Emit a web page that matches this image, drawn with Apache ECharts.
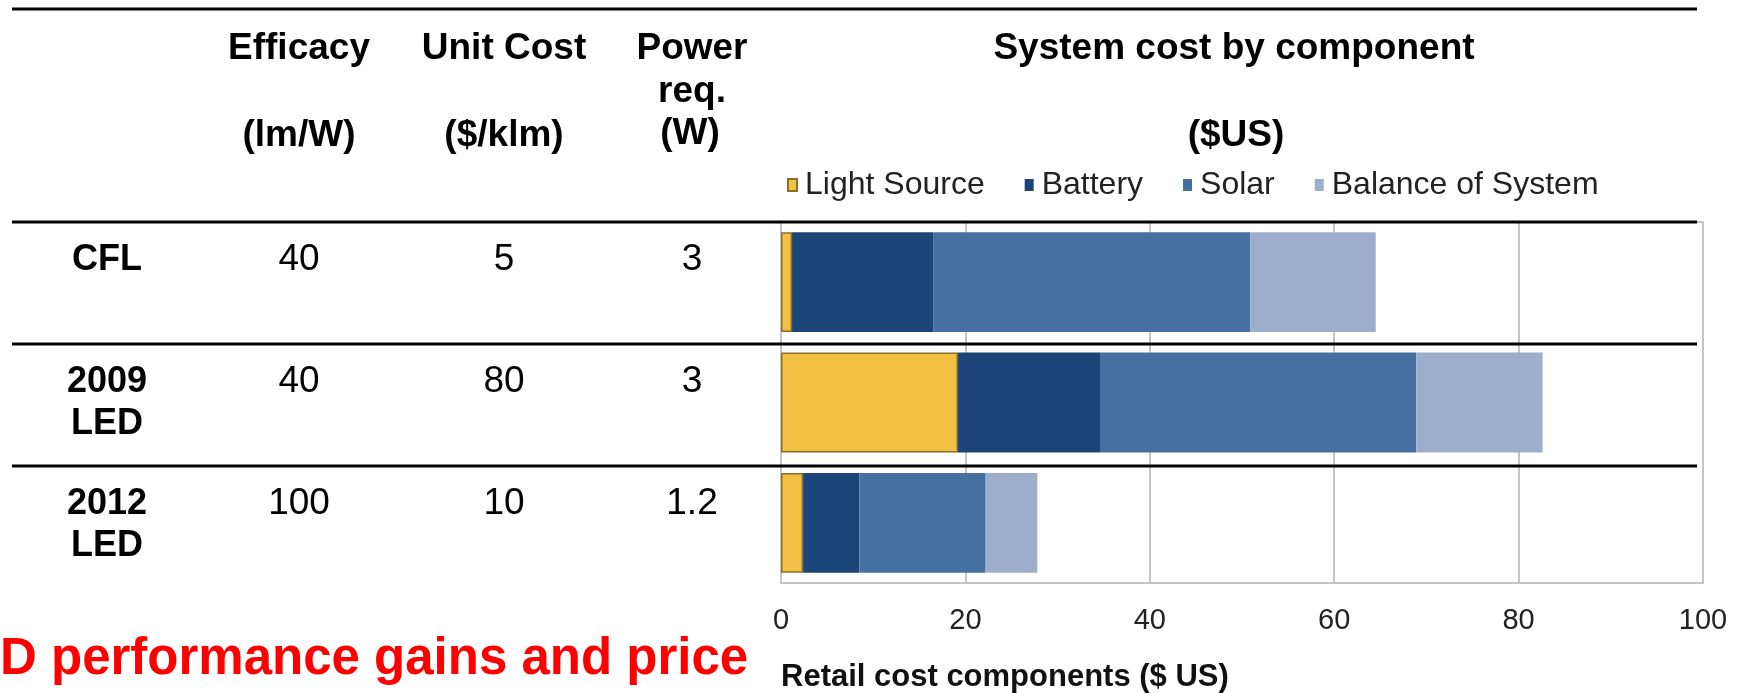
<!DOCTYPE html>
<html>
<head>
<meta charset="utf-8">
<script src="https://cdn.jsdelivr.net/npm/echarts@6/dist/echarts.min.js"></script>
<style>
  html, body { margin: 0; padding: 0; background: #fff; }
  #chart { width: 1743px; height: 693px; }
</style>
</head>
<body>
<div id="chart"></div>
<script>
  // table rows
  const categories = ['CFL', '2009 LED', '2012 LED']
  const rowLabels = ['CFL', '2009\nLED', '2012\nLED']
  const efficacy = ['40', '40', '100']
  const unitCost = ['5', '80', '10']
  const powerReq = ['3', '3', '1.2']

  // system cost by component ($US)
  const lightSource = [1.2, 19.2, 2.4]
  const battery = [15.3, 15.4, 6.1]
  const solar = [34.4, 34.3, 13.7]
  const balanceOfSystem = [13.6, 13.7, 5.6]
  const seriesNames = ['Light Source', 'Battery', 'Solar', 'Balance of System']

  const xMin = 0
  const xMax = 100
  const xStep = 20

  const FONT = '"Liberation Sans", Arial, sans-serif'
  const rowTops = [222, 344, 466]
  const colX = [299, 504, 692]

  const chart = echarts.init(document.getElementById('chart'))

  function txt(x, y, text, font, opts) {
    return {
      type: 'text', x: x, y: y, silent: true,
      style: Object.assign({
        text: text, font: font, fill: '#000',
        textAlign: 'center', textVerticalAlign: 'middle'
      }, opts || {})
    }
  }
  function hline(y) {
    return {
      type: 'line', silent: true, z: 100,
      shape: { x1: 12, y1: y, x2: 1697, y2: y },
      style: { stroke: '#000', lineWidth: 3 }
    }
  }

  const headFont = 'bold 37px ' + FONT
  const graphics = [
    hline(9), hline(222), hline(344), hline(466),
    txt(299, 49, 'Efficacy', headFont),
    txt(299, 136, '(lm/W)', headFont),
    txt(504, 49, 'Unit Cost', headFont),
    txt(504, 136, '($/klm)', headFont),
    txt(692, 49, 'Power', headFont),
    txt(692, 92, 'req.', headFont),
    txt(690, 134, '(W)', headFont),
    txt(1234, 49, 'System cost by component', headFont),
    txt(1236, 136, '($US)', headFont),
    txt(0, 660, 'D performance gains and price', 'bold 51px ' + FONT,
      { fill: '#ff0000', textAlign: 'left' })
  ]

  categories.forEach(function (c, i) {
    const y0 = rowTops[i] + 38
    graphics.push({
      type: 'text', x: 107, y: y0 - 21, silent: true,
      style: {
        text: rowLabels[i], font: 'bold 36px ' + FONT, fill: '#000',
        textAlign: 'center', textVerticalAlign: 'top', lineHeight: 42
      }
    })
    graphics.push(txt(colX[0], y0, efficacy[i], '37px ' + FONT))
    graphics.push(txt(colX[1], y0, unitCost[i], '37px ' + FONT))
    graphics.push(txt(colX[2], y0, powerReq[i], '37px ' + FONT))
  })

  const colors = ['#F2C144', '#1B4479', '#4670A1', '#9DAECB']
  const values = [lightSource, battery, solar, balanceOfSystem]

  const option = {
    animation: false,
    textStyle: { fontFamily: FONT },
    color: colors,
    legend: {
      data: seriesNames,
      left: 782,
      top: 164,
      itemWidth: 9,
      itemHeight: 12,
      itemGap: 40,
      icon: 'rect',
      textStyle: { fontSize: 32, color: '#222', padding: [12, 0, 0, 3] }
    },
    grid: {
      left: 781, right: 40, top: 222, bottom: 109,
      show: true, borderColor: '#c4c4c4', borderWidth: 2
    },
    xAxis: {
      type: 'value',
      min: xMin, max: xMax, interval: xStep,
      name: 'Retail cost components ($ US)',
      nameLocation: 'start',
      nameGap: 0,
      nameTextStyle: {
        fontSize: 31, fontWeight: 'bold', color: '#111',
        align: 'left', verticalAlign: 'top', padding: [79, 0, 0, 0]
      },
      axisLine: { show: false },
      axisTick: { show: false },
      axisLabel: { fontSize: 29, color: '#222', margin: 23 },
      splitLine: { lineStyle: { color: '#c4c4c4', width: 2 } }
    },
    yAxis: {
      type: 'category',
      data: categories,
      inverse: true,
      show: false
    },
    graphic: graphics,
    series: seriesNames.map(function (name, i) {
      const s = {
        name: name,
        type: 'bar',
        stack: 'total',
        barWidth: '83%',
        data: values[i],
        itemStyle: { color: colors[i] }
      }
      if (i === 0) {
        s.itemStyle.borderColor = '#8C6D2A'
        s.itemStyle.borderWidth = 1.5
      }
      return s
    })
  }

  chart.setOption(option)
</script>
</body>
</html>
